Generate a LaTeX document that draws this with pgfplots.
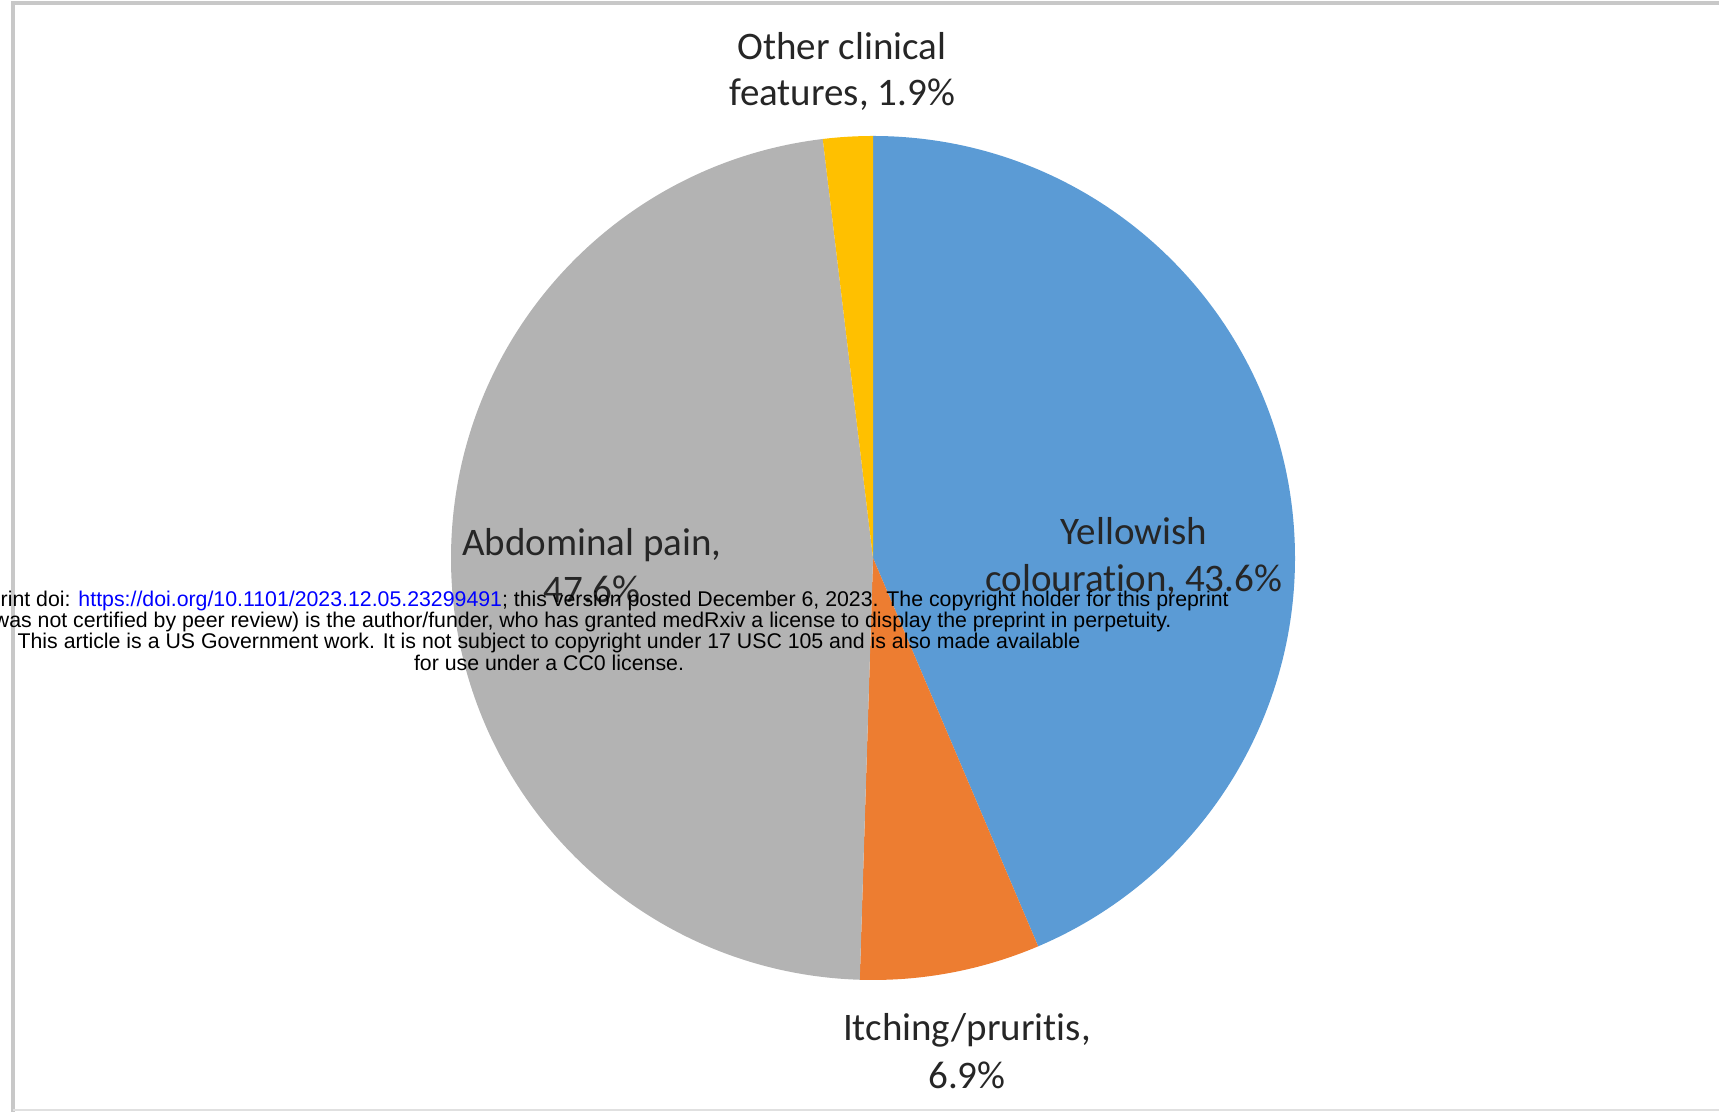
\documentclass[border=0pt]{standalone}
\usepackage{pgfplots}
\pgfplotsset{compat=1.18}
\usepackage{fontspec}
\setmainfont{Carlito}[Ligatures={NoCommon}]
\newfontfamily\wmfont{Liberation Sans}
\definecolor{sblue}{HTML}{5B9BD5}
\definecolor{sorange}{HTML}{ED7D31}
\definecolor{sgray}{HTML}{B3B3B3}
\definecolor{syellow}{HTML}{FFC000}
\definecolor{labtxt}{HTML}{262626}
\definecolor{frame}{HTML}{C8C8C8}
% shares (%), clockwise from 12 o'clock
\def\vA{43.6}% Yellowish colouration
\def\vB{6.9}%  Itching/pruritis
\def\vC{47.6}% Abdominal pain
\def\vD{1.9}%  Other clinical features
\pgfmathsetmacro\aA{90}
\pgfmathsetmacro\aB{\aA-3.6*\vA}
\pgfmathsetmacro\aC{\aB-3.6*\vB}
\pgfmathsetmacro\aD{\aC-3.6*\vC}
\pgfmathsetmacro\aE{\aD-3.6*\vD}
\def\R{211pt}
\begin{document}
\begin{tikzpicture}
\begin{axis}[at={(0,0)}, anchor=south west, width=859.5pt, height=556pt,
  scale only axis, xmin=0, xmax=1719, ymin=0, ymax=1112, hide axis, clip=false]
% frame
\draw[frame, line width=2pt] (axis cs:13,0) -- (axis cs:13,1109) -- (axis cs:1719,1109);
\draw[black!12, line width=1pt] (axis cs:13,2) -- (axis cs:1719,2);
% wedges
\fill[sblue] (axis cs:873,554) -- ++(\aA:\R) arc[start angle=\aA, end angle=\aB, radius=\R] -- cycle;
\fill[sorange] (axis cs:873,554) -- ++(\aB:\R) arc[start angle=\aB, end angle=\aC, radius=\R] -- cycle;
\fill[sgray] (axis cs:873,554) -- ++(\aC:\R) arc[start angle=\aC, end angle=\aD, radius=\R] -- cycle;
\fill[syellow] (axis cs:873,554) -- ++(\aD:\R) arc[start angle=\aD, end angle=\aE, radius=\R] -- cycle;
% labels
\begin{scope}[every node/.style={anchor=base, inner sep=0pt, text=labtxt, font=\fontsize{19.5pt}{24pt}\selectfont}]
\node at (axis cs:842,1052) {Other clinical};
\node at (axis cs:842,1006) {features, 1.9\%};
\node at (axis cs:1134,567) {Yellowish};
\node at (axis cs:1134,520) {colouration, 43.6\%};
\node at (axis cs:592,556) {Abdominal pain,};
\node at (axis cs:592,509) {47.6\%};
\node at (axis cs:967,71) {Itching/pruritis,};
\node at (axis cs:967,23) {6.9\%};
\end{scope}
% overlay text
\begin{scope}[every node/.style={anchor=base, inner sep=0pt, text=black, font=\wmfont\fontsize{10.65pt}{11pt}\selectfont}]
\node at (axis cs:549,505) {medRxiv preprint doi: \textcolor{blue}{https://doi.org/10.1101/2023.12.05.23299491}; this version posted December 6, 2023. The copyright holder for this preprint};
\node at (axis cs:549,484) {(which was not certified by peer review) is the author/funder, who has granted medRxiv a license to display the preprint in perpetuity.};
\node at (axis cs:549,463) {This article is a US Government work. It is not subject to copyright under 17 USC 105 and is also made available};
\node at (axis cs:549,441) {for use under a CC0 license.};
\end{scope}
\end{axis}
\pgfresetboundingbox
\path[use as bounding box] (0,0) rectangle (859.5pt,556pt);
\end{tikzpicture}
\end{document}
